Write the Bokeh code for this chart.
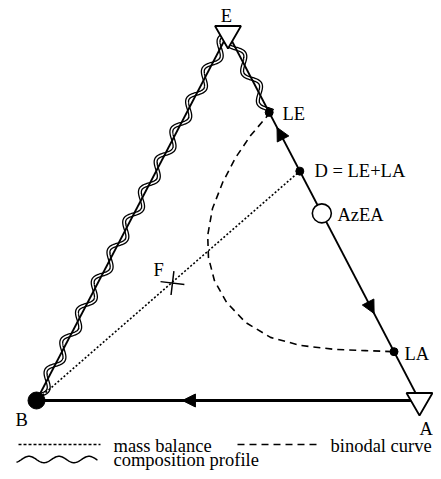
import numpy as np
from bokeh.plotting import figure
from bokeh.models import Range1d, Arrow, NormalHead
from bokeh.core.properties import value
from bokeh.embed import file_html
from bokeh.resources import INLINE

# ---- data: ternary compositions as (fraction A, fraction E); fraction B = 1 - A - E
vertex_labels = ["E", "B", "A"]
vertex_a = [0.0, 0.0, 1.0]
vertex_e = [1.0, 0.0, 0.0]

point_labels = ["LE", "D = LE+LA", "AzEA", "LA", "F"]
point_a = [0.215, 0.375, 0.49, 0.867, 0.195]
point_e = [0.785, 0.625, 0.51, 0.133, 0.32]

binodal_a = [0.218, 0.198, 0.189, 0.189, 0.198, 0.222, 0.254, 0.301, 0.363, 0.44,
             0.525, 0.614, 0.711, 0.791, 0.867]
binodal_e = [0.785, 0.722, 0.662, 0.594, 0.523, 0.45, 0.39, 0.327, 0.267, 0.2125,
             0.172, 0.15, 0.139, 0.136, 0.133]

# arrow tips along the edges (fraction A, fraction E) and a point behind each tip
arrow_tip_a = [0.381, 0.256, 0.763]
arrow_tip_e = [0.0, 0.744, 0.237]
arrow_back_a = [0.45, 0.286, 0.723]
arrow_back_e = [0.0, 0.714, 0.277]

legend_labels = ["mass balance", "binodal curve", "composition profile"]

# ---- geometry helpers
def tern(a, e):
    a = np.asarray(a, float); e = np.asarray(e, float)
    return a + e / 2.0, e

# picture-pixel <-> data mapping (layout only: labels, legend, decoration)
X0, XS, Y0, YS = 36.0, 383.0, 400.0, 367.0
def pg(px, py):
    return (np.asarray(px, float) - X0) / XS, (Y0 - np.asarray(py, float)) / YS
def topx(x, y):
    return X0 + XS * np.asarray(x), Y0 - YS * np.asarray(y)

W, H = 433, 471
xs0, ys1 = pg(0, 0)
xs1, ys0 = pg(W, H)

p = figure(width=W, height=H, output_backend="svg", toolbar_location=None,
           x_range=Range1d(xs0, xs1), y_range=Range1d(ys0, ys1),
           x_axis_type=None, y_axis_type=None, min_border=0)
p.outline_line_color = None
p.grid.visible = False
p.background_fill_color = "white"
p.border_fill_color = "white"

FONT = value("Liberation Serif")
FS = value("18.5px")

vx, vy = tern(vertex_a, vertex_e)
E = (vx[0], vy[0]); B = (vx[1], vy[1]); A = (vx[2], vy[2])
pxs, pys = tern(point_a, point_e)
LE = (pxs[0], pys[0]); D = (pxs[1], pys[1]); AZ = (pxs[2], pys[2]); LA = (pxs[3], pys[3]); F = (pxs[4], pys[4])

# ---- composition profile ribbon (decorative wave along LE -> E -> B)
def wave(p0, p1, amp=5.5, lam=34.0, step=0.7):
    a0 = np.array(topx(*p0)); a1 = np.array(topx(*p1))
    d = a1 - a0; L = np.hypot(*d); u = d / L; n = np.array([-u[1], u[0]])
    s = np.arange(0, L + step, step)
    off = amp * np.sin(2 * np.pi * s / lam)
    pts = a0[None, :] + s[:, None] * u[None, :] + off[:, None] * n[None, :]
    return pg(pts[:, 0], pts[:, 1])

for seg in [(E, LE), (E, B)]:
    wx, wy = wave(*seg)
    p.line(wx, wy, line_color="black", line_width=4.2)
    p.line(wx, wy, line_color="white", line_width=1.6)

# ---- triangle edges
p.line([E[0], A[0]], [E[1], A[1]], line_color="black", line_width=1.8)
p.line([E[0], B[0]], [E[1], B[1]], line_color="black", line_width=1.8)
p.line([B[0], A[0]], [B[1], A[1]], line_color="black", line_width=3.0)

# ---- mass balance (B -> D) and binodal curve
p.line([B[0], D[0]], [B[1], D[1]], line_color="black", line_width=1.6, line_dash="2 2")
bx, by = tern(binodal_a, binodal_e)
p.line(bx, by, line_color="black", line_width=1.6, line_dash="7 5")

# ---- arrows
tx, ty = tern(arrow_tip_a, arrow_tip_e)
sx, sy = tern(arrow_back_a, arrow_back_e)
for i in range(len(tx)):
    p.add_layout(Arrow(end=NormalHead(size=13, fill_color="black", line_color="black", line_width=1),
                       x_start=sx[i], y_start=sy[i], x_end=tx[i], y_end=ty[i],
                       line_alpha=0))

# ---- markers
p.scatter([E[0], A[0]], [E[1], A[1]], marker="inverted_triangle", size=26,
          fill_color="white", line_color="black", line_width=1.8)
p.scatter([B[0]], [B[1]], marker="circle", size=17, fill_color="black", line_color="black")
p.scatter([LE[0], D[0], LA[0]], [LE[1], D[1], LA[1]], marker="circle", size=8,
          fill_color="black", line_color="black")
p.scatter([AZ[0]], [AZ[1]], marker="circle", size=19, fill_color="white",
          line_color="black", line_width=1.6)
p.scatter([F[0]], [F[1]], marker="cross", size=24, angle=-0.12,
          line_color="black", line_width=1.5)

# ---- labels (positions in picture pixels, baseline)
lab_txt = vertex_labels + point_labels
lab_px = [226, 15, 419, 282, 314, 337, 404, 153]
lab_py = [15, 419, 428, 113, 170, 214, 353, 269]
lab_al = ["center", "left", "left", "left", "left", "left", "left", "left"]
lx, ly = pg(lab_px, lab_py)
p.text(x=lx, y=ly, text=lab_txt, text_font=FONT, text_font_size=FS,
       text_align=lab_al, text_baseline="alphabetic", text_color="black")

# ---- legend (drawn by hand)
l1x, l1y = pg([18, 100], [444, 444])
p.line(l1x, l1y, line_color="black", line_width=1.4, line_dash="3 2")
l2x, l2y = pg([237, 319], [444, 444])
p.line(l2x, l2y, line_color="black", line_width=1.6, line_dash="7 5")
s = np.linspace(0, 81, 160)
l3x, l3y = pg(16 + s, 459 - 3.2 * np.sin(2 * np.pi * (s - 5) / 30.0))
p.line(l3x, l3y, line_color="black", line_width=1.5)
ltx, lty = pg([113, 330, 113], [445, 445, 459])
p.text(x=ltx, y=lty, text=legend_labels, text_font=FONT, text_font_size=FS,
       text_align="left", text_baseline="alphabetic", text_color="black")

open("out.html", "w").write(file_html(p, INLINE))
